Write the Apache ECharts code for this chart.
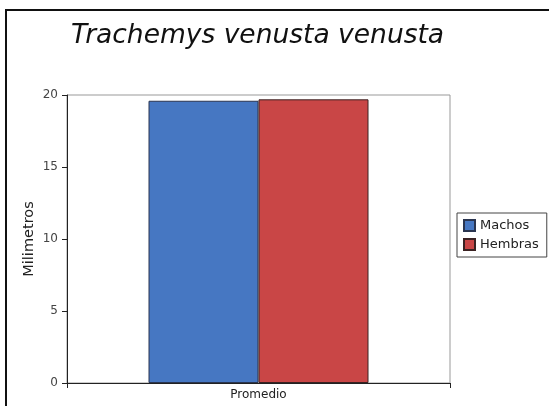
<!DOCTYPE html>
<html>
<head>
<meta charset="utf-8">
<script src="https://cdn.jsdelivr.net/npm/echarts@6/dist/echarts.min.js"></script>
<style>
	html, body { margin: 0; padding: 0; background: #fff; overflow: hidden; }
	#wrap { position: relative; width: 550px; height: 406px; overflow: hidden; }
	#_chart { position: absolute; left: 0; top: 0; width: 550px; height: 406px; }
	#lineTop { position: absolute; left: 5px; top: 9px; width: 544px; height: 2px; background: #111; }
	#lineLeft { position: absolute; left: 5px; top: 9px; width: 2px; height: 397px; background: #111; }
</style>
</head>
<body>
<div id="wrap">
	<div id="_chart"></div>
	<div id="lineTop"></div>
	<div id="lineLeft"></div>
</div>
<script>
var categories = ['Promedio'];
var machos = [19.6];
var hembras = [19.7];
var yTicks = [0, 5, 10, 15, 20];

function renderChart(){
	var _chart = echarts.init(document.getElementById('_chart'));
	var _chart_option = {
		animation: false,
		title : {
			text: 'Trachemys venusta venusta',
			left: 66,
			top: 18,
			textStyle: {
				fontFamily: 'DejaVu Sans',
				fontStyle: 'italic',
				fontWeight: 'normal',
				fontSize: 26.5,
				color: '#111'
			}
		},
		legend : {
			orient: 'vertical',
			left: 457,
			top: 213,
			itemWidth: 11,
			itemHeight: 11,
			itemGap: 6,
			padding: [6, 8, 6, 6],
			borderColor: '#444',
			borderWidth: 1,
			icon: 'rect',
			textStyle: {fontFamily: 'DejaVu Sans', fontSize: 13, color: '#222'},
			data: ['Machos', 'Hembras']
		},
		grid : {
			left: 67, top: 95, right: 100, bottom: 23,
			show: true,
			borderColor: '#999',
			borderWidth: 1
		},
		xAxis : [
			{
				type : 'category',
				data : categories,
				axisLine: {lineStyle: {color: '#222'}},
				axisTick: {show: true, length: 5, lineStyle: {color: '#222'}},
				axisLabel: {fontFamily: 'DejaVu Sans', fontSize: 12, color: '#222', margin: 6}
			}
		],
		yAxis : [
			{
				type : 'value',
				name : 'Milimetros',
				nameLocation: 'middle',
				nameGap: 30,
				nameMoveOverlap: false,
				nameTextStyle: {fontFamily: 'DejaVu Sans', fontSize: 14.5, color: '#222'},
				min: yTicks[0],
				max: yTicks[yTicks.length - 1],
				interval: yTicks[1] - yTicks[0],
				axisLine: {show: true, lineStyle: {color: '#222'}},
				axisTick: {show: true, length: 5, lineStyle: {color: '#222'}},
				splitLine: {show: false},
				axisLabel: {fontFamily: 'DejaVu Sans', fontSize: 12, color: '#444', margin: 9}
			}
		],
		series : [
			{
				name: 'Machos',
				type: 'bar',
				barWidth: 110,
				barGap: '0%',
				itemStyle: {color: '#4677c2', borderColor: '#2a3550', borderWidth: 1},
				data: machos
			},
			{
				name: 'Hembras',
				type: 'bar',
				barWidth: 110,
				barGap: '0%',
				itemStyle: {color: '#c94646', borderColor: '#3a2222', borderWidth: 1},
				data: hembras
			}
		]
	};
	_chart.setOption(_chart_option);
}
renderChart();
</script>
</body>
</html>
